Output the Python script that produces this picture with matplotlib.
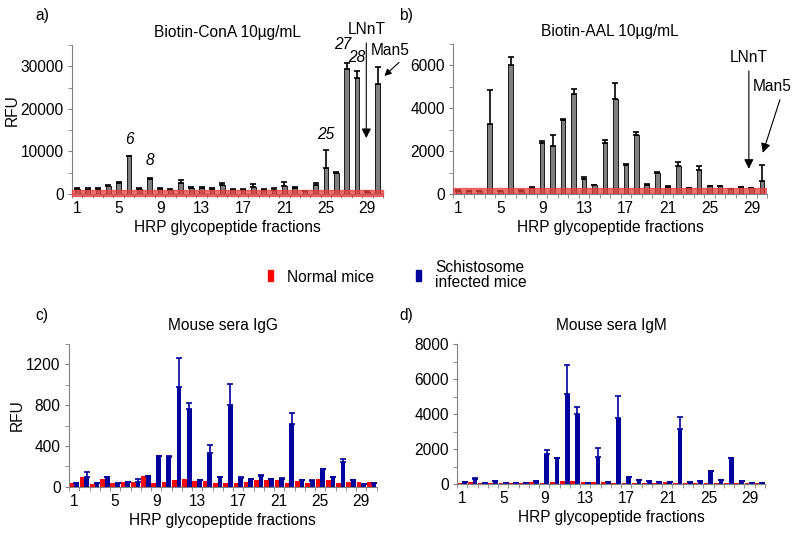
import numpy as np
import matplotlib
matplotlib.use("Agg")
import matplotlib.pyplot as plt
from matplotlib.patches import Rectangle
from matplotlib.ticker import MultipleLocator, FixedLocator

plt.rcParams['font.family'] = ['Liberation Sans', 'DejaVu Sans']
plt.rcParams['font.size'] = 11.2

# --- data ---
fractions = np.arange(1, 31)
tick_fracs = [1, 5, 9, 13, 17, 21, 25, 29]

cona_mean = [1200, 1200, 1200, 2000, 2600, 8850, 1200, 3500, 1200, 1000,
             2600, 1400, 1400, 1200, 2200, 1000, 1000, 1600, 1000, 1000,
             1800, 1400, 700, 2100, 6200, 4900, 29400, 27250, 500, 25800]
cona_err = [150, 150, 150, 200, 250, 200, 200, 250, 150, 150,
            800, 200, 200, 150, 400, 150, 200, 700, 150, 300,
            1000, 250, 100, 600, 4050, 200, 1400, 1750, 100, 3950]

aal_mean = [150, 130, 120, 3250, 120, 6020, 150, 270, 2400, 2230,
            3450, 4650, 700, 400, 2380, 4450, 1340, 2770, 440, 980,
            330, 1290, 280, 1100, 360, 360, 230, 310, 280, 590]
aal_err = [50, 30, 30, 1590, 30, 370, 50, 40, 60, 540,
           60, 250, 80, 40, 150, 730, 40, 120, 40, 40,
           30, 190, 20, 190, 30, 30, 20, 30, 20, 750]

igg_normal = [40, 93, 27, 77, 33, 50, 43, 107, 40, 50,
              67, 73, 57, 60, 40, 40, 33, 50, 67, 67,
              67, 40, 60, 33, 77, 67, 40, 50, 50, 43]
igg_infected = [33, 100, 33, 93, 40, 50, 50, 107, 300, 293,
                983, 767, 67, 327, 93, 800, 90, 73, 107, 77,
                77, 617, 67, 57, 173, 93, 240, 67, 27, 33]
igg_err = [0, 40, 0, 5, 0, 0, 23, 0, 5, 5,
           284, 56, 0, 80, 5, 210, 5, 0, 5, 0,
           5, 110, 0, 10, 5, 5, 27, 0, 0, 0]

igm_normal = [50, 100, 60, 80, 60, 80, 80, 100, 80, 120,
              180, 150, 100, 120, 90, 60, 80, 60, 70, 80,
              100, 80, 60, 50, 60, 80, 60, 60, 40, 40]
igm_infected = [96, 300, 60, 150, 60, 60, 60, 150, 1730, 1480,
                5150, 3990, 60, 1560, 100, 3800, 400, 250, 150, 115,
                100, 3130, 115, 190, 730, 210, 1460, 150, 40, 40]
igm_err = [0, 20, 0, 0, 0, 0, 0, 0, 210, 0,
           1640, 430, 0, 500, 0, 1210, 0, 0, 0, 0,
           0, 710, 0, 0, 0, 0, 0, 0, 0, 0]

RED = '#ff0000'
BLUE = '#00009c'
GRAY = '#7f7f7f'
FS = 11.2


def style_axis(ax, ymax, major, minor):
    ax.set_xlim(0.5, 30.5)
    ax.set_ylim(0, ymax)
    for s in ['top', 'right']:
        ax.spines[s].set_visible(False)
    for s in ['left', 'bottom']:
        ax.spines[s].set_color('#808080')
        ax.spines[s].set_linewidth(0.8)
    ax.xaxis.set_major_locator(FixedLocator(tick_fracs))
    ax.set_xticklabels([str(t) for t in tick_fracs])
    ax.xaxis.set_minor_locator(FixedLocator(np.arange(0.5, 31, 1)))
    ax.tick_params(axis='x', which='major', length=0, pad=5)
    ax.tick_params(axis='x', which='minor', length=3, color='#808080')
    ax.yaxis.set_major_locator(MultipleLocator(major))
    ax.yaxis.set_minor_locator(MultipleLocator(minor))
    ax.tick_params(axis='y', which='both', length=3, color='#808080', pad=3)
    ax.set_xlabel('HRP glycopeptide fractions', labelpad=3)


fig = plt.figure(figsize=(7.95, 5.36), dpi=100)

ax_a = fig.add_axes([0.0906, 0.638, 0.391, 0.278])
ax_b = fig.add_axes([0.570, 0.638, 0.395, 0.280])
ax_c = fig.add_axes([0.0868, 0.092, 0.387, 0.266])
ax_d = fig.add_axes([0.575, 0.097, 0.387, 0.261])

# --- a) ConA ---
ax_a.bar(fractions, cona_mean, width=0.45, color=GRAY, edgecolor='black', linewidth=0.6,
         yerr=[np.zeros(30), cona_err], error_kw=dict(ecolor='black', capsize=2.5, elinewidth=1.2, capthick=1.2))
ax_a.axhspan(-400, 900, color='#e84040', alpha=0.75, zorder=3, clip_on=False)
style_axis(ax_a, 35000, 10000, 5000)
ax_a.set_ylabel('RFU')
ax_a.yaxis.set_label_coords(-0.168, 0.56)
ax_a.set_title('Biotin-ConA 10µg/mL', fontsize=FS, pad=6)
for x, y, t in [(6, 11000, '6'), (8, 6000, '8'), (25, 12300, '25'), (26.6, 33300, '27'), (28.0, 30400, '28')]:
    ax_a.text(x, y, t, ha='center', va='bottom', style='italic', fontsize=FS)
ax_a.annotate('LNnT', xy=(28.9, 12500), xytext=(28.9, 36800), ha='center', va='bottom',
              annotation_clip=False,
              arrowprops=dict(arrowstyle='-|>', color='black', lw=0.8, mutation_scale=14))
ax_a.annotate('Man5', xy=(30.45, 27300), xytext=(29.35, 32000), ha='left', va='bottom',
              annotation_clip=False,
              arrowprops=dict(arrowstyle='-|>', color='black', lw=0.8, mutation_scale=10,
                              relpos=(0.85, 0.0)))

# --- b) AAL ---
ax_b.bar(fractions, aal_mean, width=0.45, color=GRAY, edgecolor='black', linewidth=0.6,
         yerr=[np.zeros(30), aal_err], error_kw=dict(ecolor='black', capsize=2.5, elinewidth=1.2, capthick=1.2))
ax_b.axhspan(0, 300, color='#e84040', alpha=0.75, zorder=3)
style_axis(ax_b, 7000, 2000, 1000)
ax_b.set_title('Biotin-AAL 10µg/mL', fontsize=FS, pad=6)
ax_b.annotate('LNnT', xy=(28.75, 1050), xytext=(28.75, 6000), ha='center', va='bottom',
              annotation_clip=False,
              arrowprops=dict(arrowstyle='-|>', color='black', lw=0.8, mutation_scale=14))
ax_b.annotate('Man5', xy=(30.0, 1800), xytext=(29.1, 4650), ha='left', va='bottom',
              annotation_clip=False,
              arrowprops=dict(arrowstyle='-|>', color='black', lw=0.8, mutation_scale=14,
                              relpos=(0.75, 0.0)))

# --- c) IgG / d) IgM ---
for ax, normal, infected, err, ymax, major, minor, title in [
        (ax_c, igg_normal, igg_infected, igg_err, 1400, 400, 200, 'Mouse sera IgG'),
        (ax_d, igm_normal, igm_infected, igm_err, 8000, 2000, 1000, 'Mouse sera IgM')]:
    ax.bar(fractions - 0.23, normal, width=0.46, color=RED, linewidth=0)
    ax.bar(fractions + 0.23, infected, width=0.46, color=BLUE, linewidth=0,
           yerr=[np.zeros(30), err], error_kw=dict(ecolor=BLUE, capsize=2.5, elinewidth=1.2, capthick=1.2))
    style_axis(ax, ymax, major, minor)
    ax.set_title(title, fontsize=FS, pad=10)
ax_c.set_ylabel('RFU')
ax_c.yaxis.set_label_coords(-0.143, 0.5)

# panel letters
for x, y, t in [(0.044, 0.972, 'a)'), (0.502, 0.972, 'b)'), (0.044, 0.412, 'c)'), (0.502, 0.412, 'd)')]:
    fig.text(x, y, t, ha='left', va='center', fontsize=FS)

# legend
fig.add_artist(Rectangle((268 / 795, 1 - 281 / 536), 5 / 795, 11 / 536, color=RED, transform=fig.transFigure))
fig.add_artist(Rectangle((416 / 795, 1 - 281 / 536), 5 / 795, 11 / 536, color=BLUE, transform=fig.transFigure))
fig.text(287 / 795, 1 - 277 / 536, 'Normal mice', ha='left', va='center', fontsize=FS)
fig.text(435 / 795, 1 - 275 / 536, 'Schistosome\ninfected mice', ha='left', va='center',
         fontsize=FS, linespacing=1.0)

fig.savefig('out.png', dpi=100)
